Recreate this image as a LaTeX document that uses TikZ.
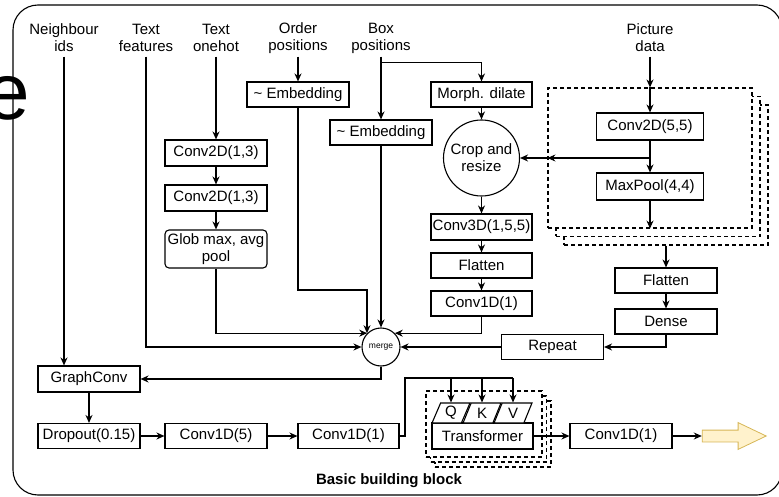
\documentclass[tikz,border=0pt]{standalone}
\usepackage{fontspec}
\setmainfont{Liberation Sans}
\usetikzlibrary{arrows.meta, shapes.geometric, shapes.arrows}

\definecolor{arrowfill}{HTML}{FFF2CC}
\definecolor{arrowline}{HTML}{D6B656}

\newcommand{\lblfont}{\fontsize{15}{17}\selectfont}

\tikzset{
	arr/.style={-{Stealth[length=8pt, width=7pt]}},
	blk/.style={draw, fill=white, minimum width=102, minimum height=25, inner sep=1pt, font=\lblfont},
	inp/.style={align=center, minimum height=36, inner sep=0pt, font=\lblfont},
	stk/.style={draw, fill=white, dash pattern=on 4pt off 3pt},
	qkv/.style={draw, fill=white, trapezium, trapezium left angle=70, trapezium right angle=110,
		trapezium stretches=true, minimum width=38, minimum height=20, inner sep=0pt, font=\lblfont},
}

\begin{document}
\begin{tikzpicture}[x=1pt, y=-1pt, line width=1.1pt]
		\useasboundingbox (0,0) rectangle (779,497);
		\draw (8,98) node[inner sep=0pt, font=\fontsize{80}{80}\selectfont] (bige) {e};
		\draw[rounded corners=25] (13,5) rectangle (782,495);

		% inputs
		\draw (64,38) node[inp] (nbr) {Neighbour\\ids};
		\draw (146,38) node[inp] (txtf) {Text\\features};
		\draw (216,38) node[inp] (txto) {Text\\onehot};
		\draw (298,38) node[inp] (ordp) {Order\\positions};
		\draw (381,38) node[inp] (boxp) {Box\\positions};
		\draw (650,38) node[inp] (picd) {Picture\\data};

		% picture branch, copies stacked behind
		\draw (666,175) node[stk, minimum width=204, minimum height=140] (pstc) {};
		\draw (658,166.5) node[stk, minimum width=204, minimum height=140] (pstb) {};
		\draw (650,158) node[stk, minimum width=204, minimum height=140] (pst) {};
		\draw (650,126.5) node[blk, minimum width=107, minimum height=27] (c55) {Conv2D(5,5)};
		\draw (650,186.5) node[blk, minimum width=107, minimum height=27] (mxp) {MaxPool(4,4)};
		\draw (666,280.5) node[blk] (fl2) {Flatten};
		\draw (666,321.5) node[blk] (dns) {Dense};
		\draw (552.5,347) node[blk] (rep) {Repeat};

		% text branch
		\draw (216,153) node[blk, minimum height=26] (c2a) {Conv2D(1,3)};
		\draw (216,198) node[blk, minimum height=26] (c2b) {Conv2D(1,3)};
		\draw (216,249) node[blk, minimum height=38, rounded corners=4, align=center] (glob) {Glob max, avg\\pool};

		% positions
		\draw (298,94.5) node[blk] (oemb) {\textasciitilde{} Embedding};
		\draw (381,132.5) node[blk] (bemb) {\textasciitilde{} Embedding};
		\draw (481.5,94.5) node[blk, minimum width=101] (dil) {Morph. dilate};
		\draw (481.5,158) node[circle, draw, fill=white, minimum size=76, inner sep=0pt, align=center, font=\lblfont] (crop) {Crop and\\resize};
		\draw (481.5,227) node[blk, minimum width=101, minimum height=26] (c3d) {Conv3D(1,5,5)};
		\draw (481.5,265.5) node[blk, minimum width=101] (fl1) {Flatten};
		\draw (481.5,303.5) node[blk, minimum width=101] (c1a) {Conv1D(1)};

		\draw (381,347) node[circle, draw, fill=white, minimum size=38, inner sep=0pt, font=\fontsize{8.5}{9}\selectfont] (mrg) {merge};

		% bottom row
		\draw (89,379) node[blk, minimum height=26] (gcv) {GraphConv};
		\draw (89,436) node[blk] (drp) {Dropout(0.15)};
		\draw (216,436) node[blk] (c5) {Conv1D(5)};
		\draw (348.5,436) node[blk, minimum width=101] (c1b) {Conv1D(1)};

		% transformer, copies stacked behind
		\draw (493,434) node[stk, minimum width=116, minimum height=66] (tstc) {};
		\draw (488.5,429) node[stk, minimum width=116, minimum height=66] (tstb) {};
		\draw (484,424) node[stk, minimum width=116, minimum height=66] (tst) {};
		\draw (482.5,436) node[blk, minimum width=101, minimum height=26] (trf) {Transformer};
		\draw (451,413) node[qkv] (tq) {Q};
		\draw (482,413) node[qkv] (tk) {K};
		\draw (513,413) node[qkv] (tv) {V};
		\draw (621,436) node[blk] (c1c) {Conv1D(1)};
		\draw (728,436) node[single arrow, draw=arrowline, fill=arrowfill, line width=0.8pt,
			single arrow head extend=7.5pt, single arrow tip angle=51, minimum height=64, inner sep=5.5pt] (outp) {};

		\draw (389,481) node[font=\bfseries\lblfont] (bbb) {Basic building block};

		% into the merge
		\draw[arr] (nbr.south) -- (nbr.south |- gcv.north);
		\draw[arr] (txtf.south) |- (mrg.west);
		\draw[arr] (txto.south) -- (c2a.north);
		\draw[arr] (c2a) -- (c2b);
		\draw[arr] (c2b) -- (glob);
		\draw[arr] (glob.south) |- (mrg.135);
		\coordinate (oj) at (367,290);
		\draw[arr] (ordp.south) -- (oemb.north);
		\draw[arr] (oemb.south) |- (oj) -- (oj |- mrg.135);
		\draw[arr] (boxp.south) -- (bemb.north);
		\draw[arr] (boxp.south) ++(0,6) -| (dil.north);
		\draw[arr] (bemb) -- (mrg);
		\draw[arr] (dil) -- (crop);
		\draw[arr] (crop) -- (c3d);
		\draw[arr] (c3d) -- (fl1);
		\draw[arr] (fl1) -- (c1a);
		\draw[arr] (c1a.south) |- (mrg.45);

		\draw[arr] (picd.south) -- (pst.north);
		\draw[arr] (pst.north) -- (c55.north);
		\draw[arr] (c55) -- (mxp);
		\draw[arr] (mxp.south) -- (pst.south);
		\coordinate (pj) at (c55.south |- pst.west);
		\draw[arr] (pj) -- (pst.west);
		\draw[arr] (pst.west) -- (crop.east);
		\draw[arr] (pstc.south) -- (fl2.north);
		\draw[arr] (fl2) -- (dns);
		\draw[arr] (dns.south) |- (rep.east);
		\draw[arr] (rep) -- (mrg);

		% out of the merge
		\draw[arr] (mrg.south) |- (gcv.east);
		\draw[arr] (gcv) -- (drp);
		\draw[arr] (drp) -- (c5);
		\draw[arr] (c5) -- (c1b);
		\coordinate (tj) at (405,378);
		\draw (c1b.east) -| (tj) -- (tv.north |- tj);
		\draw[arr] (tq.north |- tj) -- (tq.north);
		\draw[arr] (tk.north |- tj) -- (tk.north);
		\draw[arr] (tv.north |- tj) -- (tv.north);
		\draw[arr] (trf) -- (c1c);
		\draw[arr] (c1c) -- (outp);
	\end{tikzpicture}
\end{document}
